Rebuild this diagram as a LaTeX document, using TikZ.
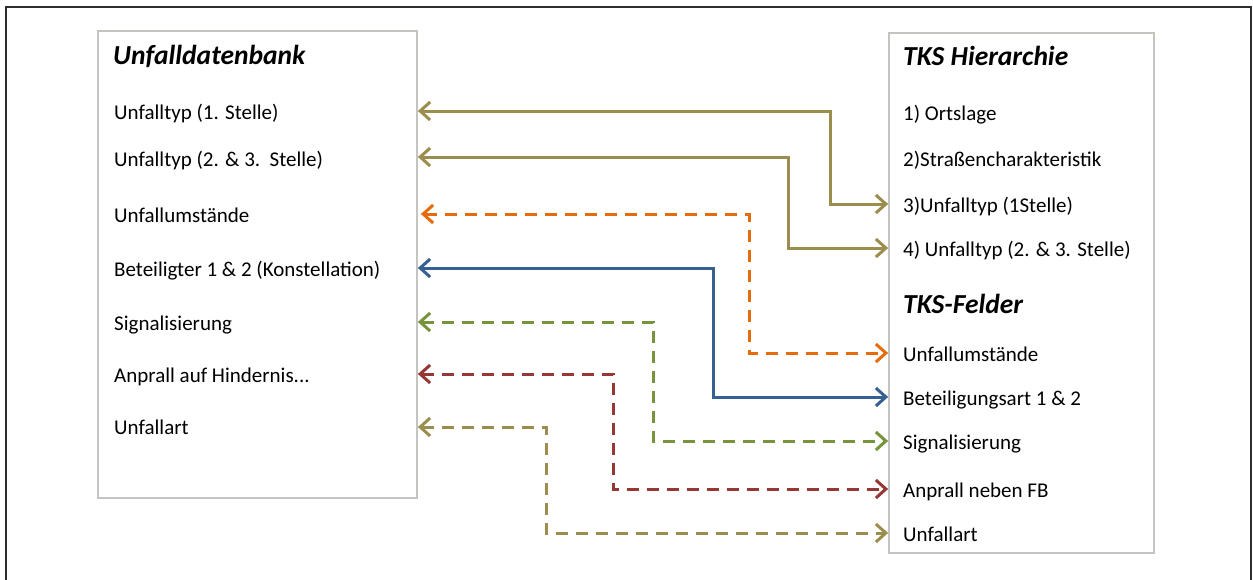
\documentclass[tikz,border=0pt]{standalone}
\usepackage{fontspec}
\setmainfont{Carlito}
\usetikzlibrary{arrows.meta}
\definecolor{framegray}{RGB}{45,45,45}
\definecolor{boxgray}{RGB}{196,196,192}
\definecolor{olivec}{RGB}{155,141,78}
\definecolor{orangec}{RGB}{228,108,10}
\definecolor{bluec}{RGB}{55,96,146}
\definecolor{greenc}{RGB}{119,147,60}
\definecolor{redc}{RGB}{149,55,53}
\begin{document}
\begin{tikzpicture}[x=1pt,y=-1pt,
  panel/.style={draw=boxgray, line width=1.8pt, fill=white, inner sep=0pt},
  head/.style={anchor=base west, inner sep=0pt, font=\fontsize{27.5}{30}\selectfont\bfseries\itshape},
  item/.style={anchor=base west, inner sep=0pt, font=\fontsize{21}{24}\selectfont},
  link/.style={line width=3pt, {Straight Barb[length=10pt,width=18pt]}-{Straight Barb[length=10pt,width=18pt]}},
  dashlink/.style={link, dash pattern=on 12pt off 8pt},
]
\useasboundingbox (0,0) rectangle (1253,579);
% outer frame (open at the bottom edge)
\draw[framegray, line width=1.8pt] (6,590) -- (6,7) -- (1251,7) -- (1251,590);

% the two panels
\node[panel, minimum width=319pt, minimum height=467pt] (lbox) at (257.5,264.5) {};
\node[panel, minimum width=265pt, minimum height=520pt] (rbox) at (1021.5,293) {};

% accident database fields (placed on their baselines)
\node[head] (lt) at (113,64) {Unfalldatenbank};
\node[item] (l1) at (114,119) {Unfalltyp (1. Stelle)};
\node[item] (l2) at (114,166) {Unfalltyp (2. \& 3.\ \ Stelle)};
\node[item] (l3) at (114,222) {Unfallumstände};
\node[item] (l4) at (114,276) {Beteiligter 1 \& 2 (Konstellation)};
\node[item] (l5) at (114,330) {Signalisierung};
\node[item] (l6) at (114,382) {Anprall auf Hindernis...};
\node[item] (l7) at (114,434) {Unfallart};

% TKS hierarchy and fields
\node[head] (rt) at (903,65) {TKS Hierarchie};
\node[item] (r1) at (903,120) {1) Ortslage};
\node[item] (r2) at (903,166) {2)Straßencharakteristik};
\node[item] (r3) at (903,212) {3)Unfalltyp (1Stelle)};
\node[item] (r4) at (903,256) {4) Unfalltyp (2. \& 3. Stelle)};
\node[head] (rf) at (903,313) {TKS-Felder};
\node[item] (r5) at (903,361) {Unfallumstände};
\node[item] (r6) at (903,405) {Beteiligungsart 1 \& 2};
\node[item] (r7) at (903,449) {Signalisierung};
\node[item] (r8) at (903,497) {Anprall neben FB};
\node[item] (r9) at (903,541) {Unfallart};

% connectors between corresponding fields (row heights taken from the item baselines)
\draw[link, olivec] ([yshift=8pt]lbox.east |- l1.base) -| ([xshift=-58pt,yshift=8pt]rbox.west |- r3.base) -- ([yshift=8pt]rbox.west |- r3.base);
\draw[link, olivec] ([yshift=9pt]lbox.east |- l2.base) -| ([xshift=-100pt,yshift=8pt]rbox.west |- r4.base) -- ([yshift=8pt]rbox.west |- r4.base);
\draw[dashlink, orangec] ([xshift=3pt,yshift=8pt]lbox.east |- l3.base) -| ([xshift=-139pt,yshift=8pt]rbox.west |- r5.base) -- ([yshift=8pt]rbox.west |- r5.base);
\draw[link, bluec] ([yshift=8pt]lbox.east |- l4.base) -| ([xshift=-175pt,yshift=8pt]rbox.west |- r6.base) -- ([yshift=8pt]rbox.west |- r6.base);
\draw[dashlink, greenc] ([yshift=8pt]lbox.east |- l5.base) -| ([xshift=-235pt,yshift=8pt]rbox.west |- r7.base) -- ([yshift=8pt]rbox.west |- r7.base);
\draw[dashlink, redc] ([yshift=8pt]lbox.east |- l6.base) -| ([xshift=-275pt,yshift=8pt]rbox.west |- r8.base) -- ([yshift=8pt]rbox.west |- r8.base);
\draw[dashlink, olivec] ([yshift=7pt]lbox.east |- l7.base) -| ([xshift=-342pt,yshift=8pt]rbox.west |- r9.base) -- ([yshift=8pt]rbox.west |- r9.base);
\end{tikzpicture}
\end{document}
